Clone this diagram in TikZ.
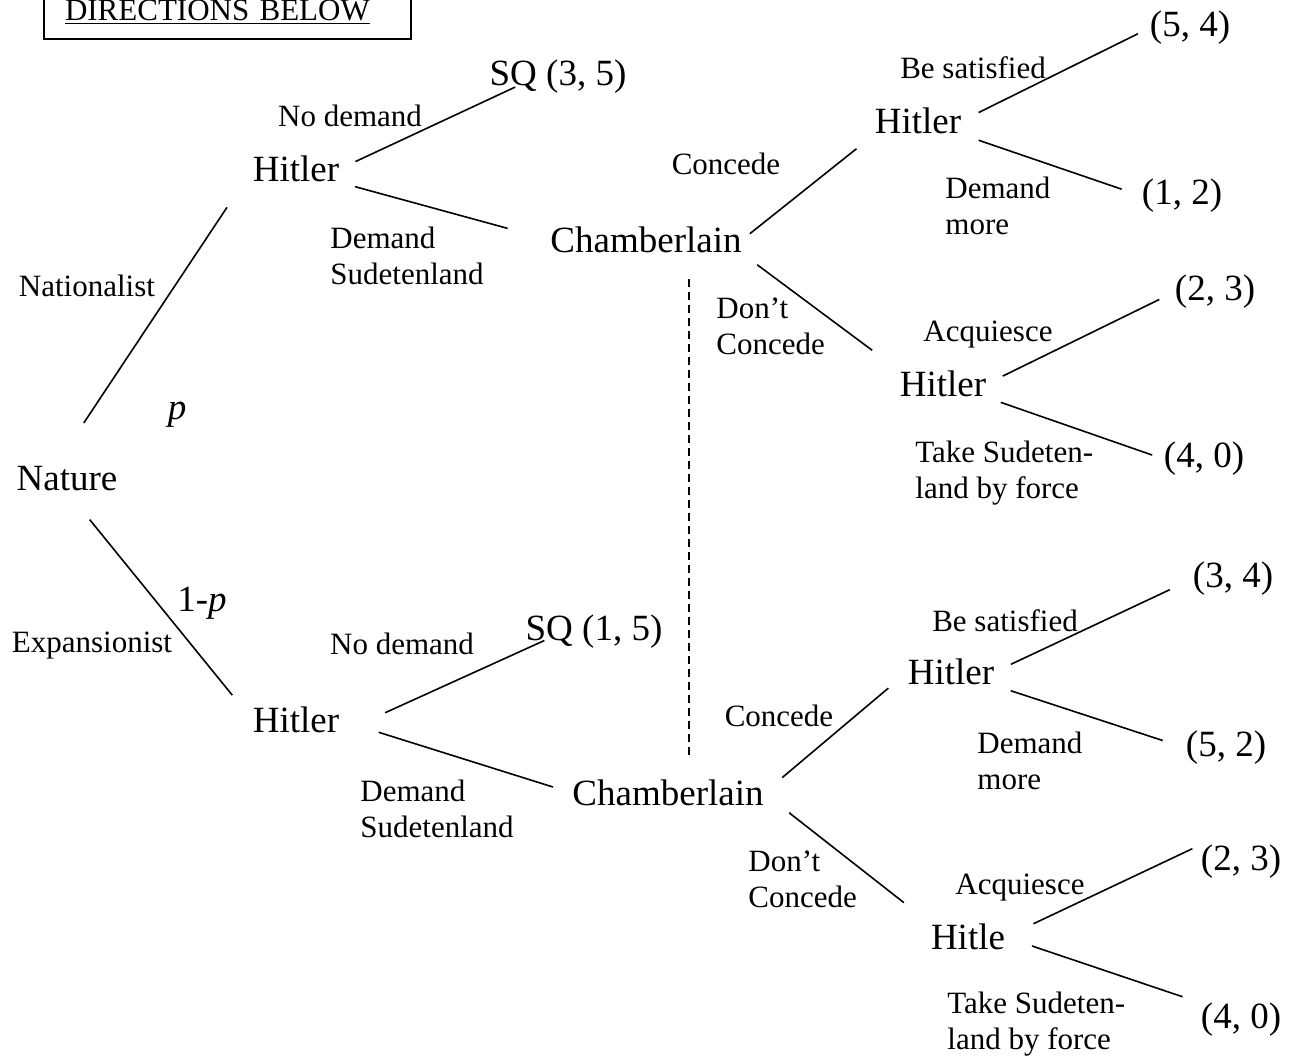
\documentclass[tikz,border=0pt]{standalone}
\usepackage{fontspec}
\setmainfont{Liberation Serif}
\begin{document}
\begin{tikzpicture}[x=0.5pt, y=-0.5pt,
    every node/.style={inner sep=0pt},
    big/.style={font=\fontsize{18.5}{22}\selectfont},
    lab/.style={font=\fontsize{15.5}{18}\selectfont, align=left},
    edge/.style={line width=0.8pt},
    infoset/.style={line width=0.6pt, dash pattern=on 4pt off 2.5pt}]
    \useasboundingbox (0,0) rectangle (1290,1059);

    % Draw nodes
    \node[big] (nat) at (67,479) {Nature};
    \node[big] (hA) at (296,169) {Hitler};
    \node[big] (hB) at (296,720) {Hitler};
    \node[big] (sqA) at (558,77) {SQ (3, 5)};
    \node[big] (sqB) at (594,632) {SQ (1, 5)};
    \node[big] (chA) at (646,240) {Chamberlain};
    \node[big] (chB) at (668,793) {Chamberlain};
    \node[big] (hAA) at (918,121) {Hitler};
    \node[big] (hAB) at (943,384) {Hitler};
    \node[big] (hBA) at (951,672) {Hitler};
    \node[big] (hBB) at (968,937) {Hitle};
    \node[big] (pA1) at (1190,28) {(5, 4)};
    \node[big] (pA2) at (1182,196) {(1, 2)};
    \node[big] (pA3) at (1215,292) {(2, 3)};
    \node[big] (pA4) at (1204,459) {(4, 0)};
    \node[big] (pB1) at (1233,579) {(3, 4)};
    \node[big] (pB2) at (1226,748) {(5, 2)};
    \node[big] (pB3) at (1241,862) {(2, 3)};
    \node[big] (pB4) at (1241,1020) {(4, 0)};

    % Draw labels
    \node[lab, draw, line width=1pt, anchor=south west, text width=162.5pt,
          inner xsep=10.5pt, inner ysep=7pt] (dirs) at (43,40) {\underline{DIRECTIONS BELOW}};
    \node[lab] (lNat) at (87,286) {Nationalist};
    \node[lab] (lExp) at (92,646) {Expansionist};
    \node[big] (lp) at (177,415) {\textit{p}};
    \node[big] (l1p) at (202,603) {1-\textit{p}};
    \node[lab] (lNdA) at (350,116) {No demand};
    \node[lab, anchor=north west] (lDsA) at (330,227) {Demand\\Sudetenland};
    \node[lab] (lCoA) at (726,164) {Concede};
    \node[lab, anchor=north west] (lDcA) at (716,297) {Don’t\\Concede};
    \node[lab] (lBsA) at (973,68) {Be satisfied};
    \node[lab, anchor=north west] (lDmA) at (945,177) {Demand\\more};
    \node[lab] (lAqA) at (988,335) {Acquiesce};
    \node[lab, anchor=north west] (lTsA) at (915,441) {Take Sudeten-\\land by force};
    \node[lab] (lNdB) at (402,644) {No demand};
    \node[lab, anchor=north west] (lDsB) at (360,780) {Demand\\Sudetenland};
    \node[lab] (lCoB) at (779,716) {Concede};
    \node[lab, anchor=north west] (lDcB) at (748,850) {Don’t\\Concede};
    \node[lab] (lBsB) at (1005,621) {Be satisfied};
    \node[lab, anchor=north west] (lDmB) at (977,732) {Demand\\more};
    \node[lab] (lAqB) at (1020,888) {Acquiesce};
    \node[lab, anchor=north west] (lTsB) at (947,992) {Take Sudeten-\\land by force};

    % Draw edges
    \draw[edge, shorten <=26pt, shorten >=23pt] ([xshift=-6pt]nat.north) -- (hA.west);
    \draw[edge, shorten <=18pt, shorten >=16pt] (nat.south) -- (hB.west);
    \draw[edge, shorten <=8.8pt, shorten >=-14.3pt] (hA.east) -- ([yshift=-2.5pt]sqA.south west);
    \draw[edge, shorten <=8pt, shorten >=22pt] (hA.south east) -- (chA.west);
    \draw[edge, shorten <=5pt, shorten >=11.5pt] (chA.east) -- (hAA.south west);
    \draw[edge, shorten <=9.5pt, shorten >=17pt] (chA.south east) -- (hAB.north west);
    \draw[edge, shorten <=9.5pt, shorten >=6.5pt] (hAA.east) -- (pA1.west);
    \draw[edge, shorten <=9pt, shorten >=10.5pt] (hAA.south east) -- (pA2.west);
    \draw[edge, shorten <=9pt, shorten >=8.5pt] (hAB.east) -- (pA3.west);
    \draw[edge, shorten <=7.5pt, shorten >=6pt] (hAB.south east) -- (pA4.west);
    \draw[edge, shorten <=25pt, shorten >=-10.5pt] (hB.south east) -- (sqB.south west);
    \draw[edge, shorten <=20.5pt, shorten >=10pt] (hB.east) -- (chB.west);
    \draw[edge, shorten <=12pt, shorten >=12.5pt] (chB.east) -- (hBA.west);
    \draw[edge, shorten <=16pt, shorten >=17pt] (chB.east) -- (hBB.north west);
    \draw[edge, shorten <=9pt, shorten >=12.5pt] (hBA.east) -- (pB1.west);
    \draw[edge, shorten <=8.5pt, shorten >=12pt] (hBA.south east) -- (pB2.west);
    \draw[edge, shorten <=15.5pt, shorten >=4.5pt] (hBB.east) -- (pB3.north west);
    \draw[edge, shorten <=14pt, shorten >=9.5pt] (hBB.east) -- (pB4.north west);

    % Chamberlain's information set
    \draw[infoset, shorten <=13pt, shorten >=11pt] ([xshift=21.5pt]chA.south) -- ([xshift=10.5pt]chB.north);
\end{tikzpicture}
\end{document}
